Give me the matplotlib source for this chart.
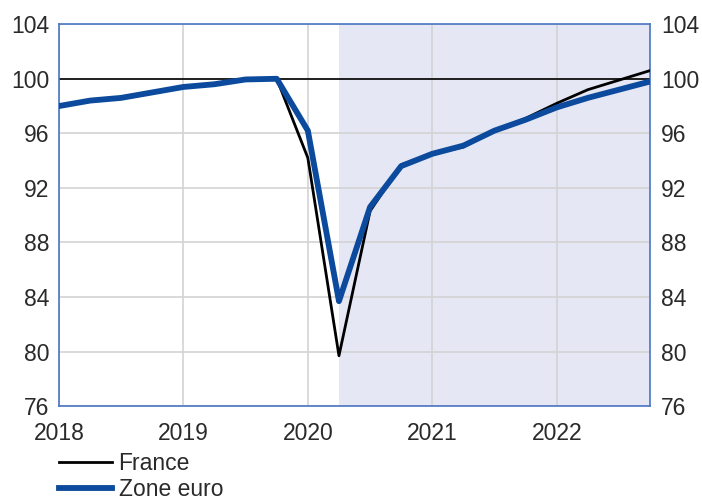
import numpy as np
import matplotlib
matplotlib.use("Agg")
import matplotlib.pyplot as plt

# quarterly index, 2019Q4 = 100
quarters = np.arange(2018.0, 2023.0, 0.25)
france = [98.0, 98.4, 98.6, 99.0, 99.4, 99.6, 99.95, 100.0,
          94.2, 79.7, 90.3, 93.7, 94.5, 95.0, 96.2, 97.1,
          98.2, 99.2, 99.9, 100.6]
zone_euro = [98.0, 98.4, 98.6, 99.0, 99.4, 99.6, 99.95, 100.0,
             96.2, 83.7, 90.6, 93.6, 94.5, 95.1, 96.2, 97.0,
             97.9, 98.6, 99.2, 99.8]
years = [2018, 2019, 2020, 2021, 2022]
yticks = [76, 80, 84, 88, 92, 96, 100, 104]
shade_start = 2020.25

blue = "#0b4a9c"
frame = "#4a74c4"
txt = "#2a2a2a"
fs = 16.5

plt.rcParams['font.family'] = ['Liberation Sans', 'DejaVu Sans']

fig = plt.figure(figsize=(7.02, 5.04), dpi=100)
ax = fig.add_axes([0.084, 0.194, 0.842, 0.758])

ax.axvspan(shade_start, quarters[-1], color="#e5e7f4", zorder=0, lw=0)
ax.axhline(100, color="black", lw=1.2, zorder=2)
ax.plot(quarters, france, color="black", lw=2, label="France", zorder=3)
ax.plot(quarters, zone_euro, color=blue, lw=4.2, label="Zone euro", zorder=4)

ax.set_xlim(quarters[0], quarters[-1])
ax.set_ylim(76, 104)
ax.set_xticks(years)
ax.set_xticklabels([str(y) for y in years])
ax.set_yticks(yticks)
ax.grid(True, color="#d3d3d3", lw=1.2, zorder=1)
ax.set_axisbelow(True)
for s in ax.spines.values():
    s.set_color(frame)
    s.set_linewidth(1.2)
ax.tick_params(length=0, labelsize=fs, colors=txt)
ax.tick_params(axis="x", pad=11)
ax.tick_params(axis="y", pad=7)

ax2 = ax.twinx()
ax2.set_ylim(76, 104)
ax2.set_yticks(yticks)
ax2.tick_params(length=0, labelsize=fs, colors=txt, pad=8)
for s in ax2.spines.values():
    s.set_visible(False)

leg = ax.legend(loc="upper left", bbox_to_anchor=(0.0, -0.12), frameon=False,
                fontsize=fs, handlelength=2.3, handletextpad=0.3,
                labelspacing=0.12, borderpad=0, borderaxespad=0)
for t in leg.get_texts():
    t.set_color(txt)

fig.savefig("out.png", dpi=100)
